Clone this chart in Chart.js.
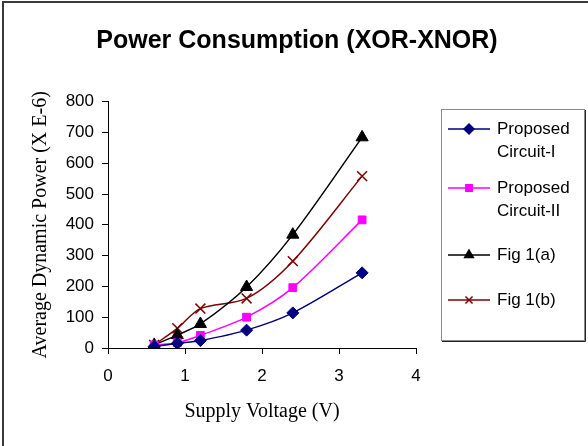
<!DOCTYPE html>
<html>
<head>
<meta charset="utf-8">
<script src="https://cdn.jsdelivr.net/npm/chart.js@4.4.1/dist/chart.umd.min.js"></script>
<style>
  html, body { margin: 0; padding: 0; background: #fff; }
  #wrap { width: 588px; height: 446px; }
</style>
</head>
<body>
<div id="wrap"><canvas id="power-chart" width="588" height="446"></canvas></div>
<script>
// supply voltage (V)
const voltages = [0.6, 0.9, 1.2, 1.8, 2.4, 3.3];
// average dynamic power (x E-6)
const circuit1 = [5, 15, 24, 58, 114, 244];
const circuit2 = [10, 17, 41, 100, 196, 416];
const fig1a = [10, 42, 78, 198, 368, 684];
const fig1b = [10, 64, 128, 161, 282, 558];
const seriesLabels = [['Proposed', 'Circuit-I'], ['Proposed', 'Circuit-II'], ['Fig 1(a)'], ['Fig 1(b)']];
const xTickValues = [0, 1, 2, 3, 4];
const yTickValues = [0, 100, 200, 300, 400, 500, 600, 700, 800];
const chartTitle = 'Power Consumption (XOR-XNOR)';

const sans = 'Arial, "Liberation Sans", sans-serif';
const serif = '"Times New Roman", "Liberation Serif", serif';

function points(ys) {
  return voltages.map((v, i) => ({ x: v, y: ys[i] }));
}

function makeSet(label, ys, color, style, radius) {
  return {
    label: label.join(' '),
    legendLines: label,
    data: points(ys),
    borderColor: color,
    backgroundColor: color,
    borderWidth: 1.5,
    pointStyle: style,
    pointRadius: radius,
    pointBorderColor: color,
    pointBackgroundColor: color,
    pointBorderWidth: style === 'crossRot' ? 1.5 : 1,
    tension: 0.3
  };
}

// outer frame (only top and left edges show) and the centred title
const framePlugin = {
  id: 'frame',
  beforeDraw(chart) {
    const ctx = chart.ctx;
    ctx.save();
    ctx.fillStyle = '#fff';
    ctx.fillRect(0, 0, chart.width, chart.height);
    ctx.strokeStyle = '#3a3a3a';
    ctx.lineWidth = 2;
    ctx.beginPath();
    ctx.moveTo(3, 446);
    ctx.lineTo(3, 2);
    ctx.lineTo(588, 2);
    ctx.stroke();
    ctx.fillStyle = '#000';
    ctx.font = 'bold 25px ' + sans;
    ctx.textAlign = 'center';
    ctx.textBaseline = 'middle';
    ctx.fillText(chartTitle, 297, 41);
    ctx.restore();
  }
};

// boxed legend to the right with two-line labels
const boxLegend = {
  id: 'boxLegend',
  afterDraw(chart) {
    const ctx = chart.ctx;
    const rowY = [129, 188, 255, 300];
    ctx.save();
    ctx.strokeStyle = '#8a8a8a';
    ctx.lineWidth = 1;
    ctx.strokeRect(441.5, 109.5, 143, 231);
    ctx.strokeStyle = '#222';
    ctx.beginPath();
    ctx.moveTo(585.5, 110);
    ctx.lineTo(585.5, 341.5);
    ctx.lineTo(442, 341.5);
    ctx.stroke();

    chart.data.datasets.forEach((ds, i) => {
      const y = rowY[i];
      ctx.strokeStyle = ds.borderColor;
      ctx.lineWidth = 1.5;
      ctx.beginPath();
      ctx.moveTo(448, y);
      ctx.lineTo(490, y);
      ctx.stroke();
      ctx.fillStyle = ds.borderColor;
      Chart.helpers.drawPoint(ctx, {
        pointStyle: ds.pointStyle,
        radius: ds.pointStyle === 'rect' ? 4.5 : 5,
        rotation: 0,
        borderWidth: ds.pointBorderWidth
      }, 469, y);
      ctx.fillStyle = '#000';
      ctx.font = '17px ' + sans;
      ctx.textBaseline = 'middle';
      ctx.textAlign = 'left';
      ds.legendLines.forEach((line, k) => {
        ctx.fillText(line, 497, y + k * 23);
      });
    });
    ctx.restore();
  }
};

const ctx = document.getElementById('power-chart').getContext('2d');

new Chart(ctx, {
  type: 'line',
  data: {
    datasets: [
      makeSet(seriesLabels[0], circuit1, '#000080', 'rectRot', 6),
      makeSet(seriesLabels[1], circuit2, '#ff00ff', 'rect', 5.5),
      makeSet(seriesLabels[2], fig1a, '#000000', 'triangle', 7),
      makeSet(seriesLabels[3], fig1b, '#800000', 'crossRot', 7)
    ]
  },
  options: {
    responsive: false,
    animation: false,
    devicePixelRatio: 1,
    layout: { padding: { left: 0, right: 172, top: 0, bottom: 0 } },
    plugins: {
      legend: { display: false },
      tooltip: { enabled: false },
      // keeps the space above the plot; the visible title is drawn by framePlugin
      title: {
        display: true,
        text: ' ',
        font: { family: sans, size: 23, weight: 'bold' },
        padding: { top: 27, bottom: 47 }
      }
    },
    scales: {
      x: {
        type: 'linear',
        min: 0,
        max: 4,
        afterBuildTicks(scale) {
          scale.ticks = xTickValues.map(v => ({ value: v }));
        },
        afterFit(scale) { scale.height = 98; },
        ticks: {
          color: '#000',
          font: { family: sans, size: 17 },
          padding: 12,
          maxRotation: 0
        },
        grid: { drawOnChartArea: false, drawTicks: true, tickLength: 6, color: '#000' },
        border: { display: true, color: '#000', width: 1 },
        title: {
          display: true,
          text: 'Supply Voltage (V)',
          color: '#000',
          font: { family: serif, size: 20 },
          padding: { top: 0, bottom: 22 }
        }
      },
      y: {
        min: 0,
        max: 800,
        afterBuildTicks(scale) {
          scale.ticks = yTickValues.map(v => ({ value: v }));
        },
        afterFit(scale) { scale.width = 108; },
        ticks: {
          color: '#000',
          font: { family: sans, size: 17 },
          padding: 8
        },
        grid: { drawOnChartArea: false, drawTicks: true, tickLength: 6, color: '#000' },
        border: { display: true, color: '#000', width: 1 },
        title: {
          display: true,
          text: 'Average Dynamic Power (X E-6)',
          color: '#000',
          font: { family: serif, size: 20 },
          padding: { top: 29, bottom: 0 }
        }
      }
    }
  },
  plugins: [framePlugin, boxLegend]
});
</script>
</body>
</html>
